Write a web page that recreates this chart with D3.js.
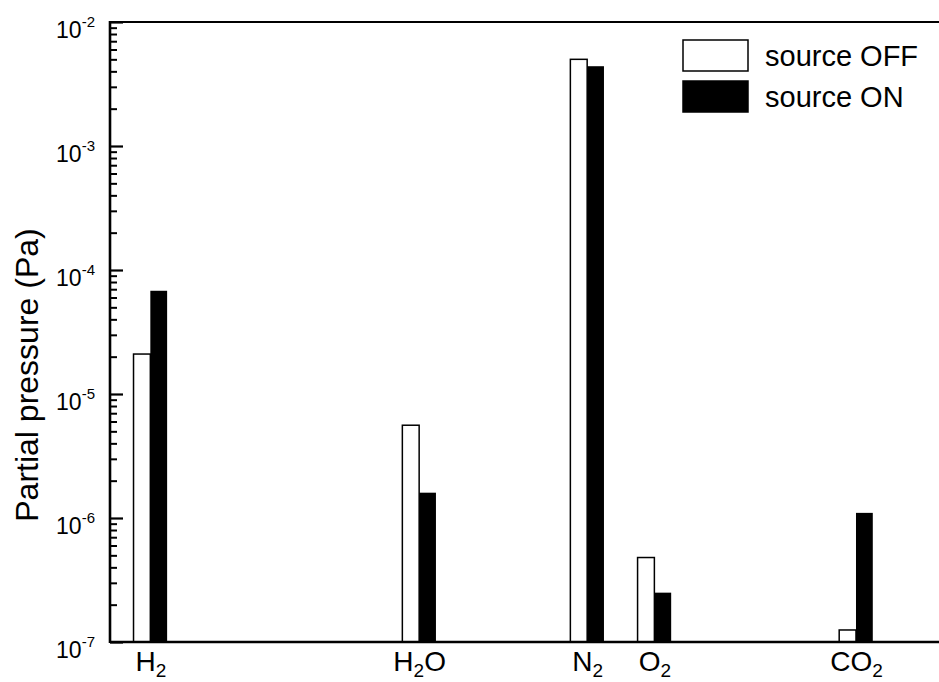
<!DOCTYPE html>
<html lang="en">
<head>
<meta charset="UTF-8">
<title>Partial pressure</title>
<style>
  body { margin: 0; background: #fff; }
  svg { display: block; font-family: "Liberation Sans", Arial, Helvetica, sans-serif; }
</style>
</head>
<body>
<script src="https://cdn.jsdelivr.net/npm/d3@7"></script>
<div id="chart"></div>
<script>
  // gases placed by mass number, two bars each
  var gases = ["H2", "H2O", "N2", "O2", "CO2"]
  var masses = [2, 18, 28, 32, 44]
  var sourceOff = [2.1e-5, 5.6e-6, 5.0e-3, 4.8e-7, 1.25e-7]
  var sourceOn = [6.8e-5, 1.6e-6, 4.4e-3, 2.5e-7, 1.1e-6]
  var yExponents = [-7, -6, -5, -4, -3, -2]
  var legendLabels = ["source OFF", "source ON"]

  var width = 939, height = 682
  var plotLeft = 110, plotTop = 22, plotBottom = 642

  var svg = d3.select("#chart").append("svg")
    .attr("width", width)
    .attr("height", height)

  var xScale = d3.scaleLinear().domain([-0.4, 49]).range([plotLeft, 940])
  var yScale = d3.scaleLog().domain([1e-7, 1e-2]).range([plotBottom, plotTop])

  // minor ticks 2..9 in each decade
  var minor = []
  yExponents.slice(0, -1).forEach(function (e) {
    for (var m = 2; m <= 9; m++) minor.push(m * Math.pow(10, e))
  })
  var major = yExponents.map(function (e) { return Math.pow(10, e) })

  // bars
  var bars = svg.append("g")
  bars.selectAll(".off").data(masses).join("rect")
    .attr("class", "off")
    .attr("x", function (d) { return xScale(d - 1) })
    .attr("width", function (d) { return xScale(d) - xScale(d - 1) })
    .attr("y", function (d, i) { return yScale(sourceOff[i]) })
    .attr("height", function (d, i) { return plotBottom - yScale(sourceOff[i]) })
    .attr("fill", "white")
    .attr("stroke", "black")
    .attr("stroke-width", 1.5)
  bars.selectAll(".on").data(masses).join("rect")
    .attr("class", "on")
    .attr("x", function (d) { return xScale(d) })
    .attr("width", function (d) { return xScale(d + 1) - xScale(d) })
    .attr("y", function (d, i) { return yScale(sourceOn[i]) })
    .attr("height", function (d, i) { return plotBottom - yScale(sourceOn[i]) })
    .attr("fill", "black")

  // y axis, ticks drawn inside
  var yMinor = d3.axisLeft(yScale).tickValues(minor).tickSize(-7).tickFormat("")
  var yMajor = d3.axisLeft(yScale).tickValues(major).tickSize(-13).tickPadding(15)
    .tickFormat(function (d) { return Math.round(Math.log10(d)) })

  svg.append("g").attr("transform", "translate(" + plotLeft + ",0)").call(yMinor)
    .call(function (g) { g.select(".domain").remove() })
    .selectAll("line").attr("stroke-width", 2)

  var gy = svg.append("g").attr("transform", "translate(" + plotLeft + ",0)").call(yMajor)
  gy.select(".domain").remove()
  gy.selectAll("line").attr("stroke-width", 2.2)
  gy.selectAll("text").each(function (d) {
    var t = d3.select(this)
    var e = Math.round(Math.log10(d))
    t.text("").attr("dy", null).attr("y", 15)
      .attr("font-size", 23).attr("fill", "black")
      .style("font-family", "'Liberation Sans', Arial, sans-serif")
    t.append("tspan").text("10")
    t.append("tspan").attr("font-size", 15).attr("dy", -11).text(e)
  })

  // x axis labels with subscripts
  var xAxis = d3.axisBottom(xScale).tickValues(masses).tickSize(0).tickFormat("")
  var gx = svg.append("g").attr("transform", "translate(0," + plotBottom + ")").call(xAxis)
  gx.select(".domain").remove()
  gx.selectAll(".tick").append("text")
    .attr("y", 29)
    .attr("text-anchor", "middle")
    .attr("font-size", 28)
    .attr("fill", "black")
    .style("font-family", "'Liberation Sans', Arial, sans-serif")
    .each(function (d, i) {
      var t = d3.select(this)
      var parts = gases[i].match(/[A-Z]+|\d+/g)
      var shifted = false
      parts.forEach(function (p) {
        if (/\d/.test(p)) {
          t.append("tspan").attr("font-size", 19).attr("dy", 6).text(p)
          shifted = true
        } else {
          t.append("tspan").attr("dy", shifted ? -6 : null).text(p)
          shifted = false
        }
      })
    })

  // frame: left, bottom and top lines (no right edge)
  svg.append("line").attr("x1", plotLeft).attr("x2", plotLeft).attr("y1", plotTop - 1).attr("y2", plotBottom + 1)
    .attr("stroke", "black").attr("stroke-width", 2.6)
  svg.append("line").attr("x1", plotLeft).attr("x2", width).attr("y1", plotBottom).attr("y2", plotBottom)
    .attr("stroke", "black").attr("stroke-width", 2.6)
  svg.append("line").attr("x1", plotLeft).attr("x2", width).attr("y1", plotTop).attr("y2", plotTop)
    .attr("stroke", "black").attr("stroke-width", 2.2)

  // axis title
  svg.append("text")
    .attr("transform", "translate(38,375) rotate(-90)")
    .attr("text-anchor", "middle")
    .attr("font-size", 32)
    .text("Partial pressure (Pa)")

  // legend
  var legend = svg.append("g").attr("transform", "translate(683,40)")
  legend.selectAll("rect").data(legendLabels).join("rect")
    .attr("x", 0)
    .attr("y", function (d, i) { return i * 41 })
    .attr("width", 65)
    .attr("height", 31)
    .attr("fill", function (d, i) { return i == 0 ? "white" : "black" })
    .attr("stroke", "black")
    .attr("stroke-width", 1.5)
  legend.selectAll("text").data(legendLabels).join("text")
    .attr("x", 82)
    .attr("y", function (d, i) { return 26 + i * 41 })
    .attr("font-size", 29)
    .text(function (d) { return d })
</script>
</body>
</html>
